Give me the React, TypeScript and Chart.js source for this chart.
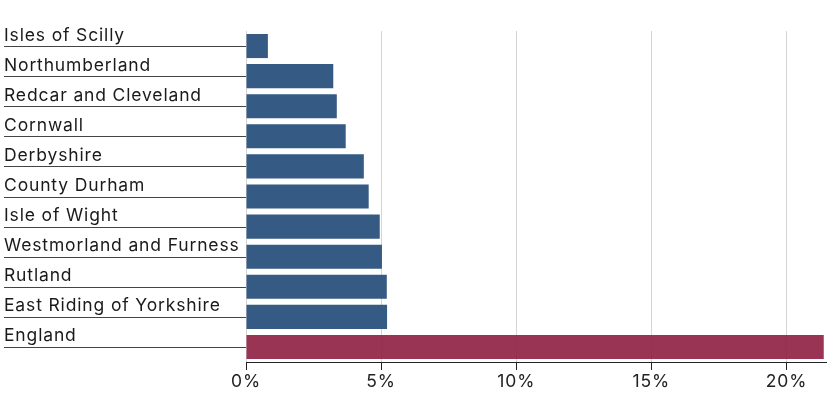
import React, { useEffect, useRef } from "react";
import { Chart, registerables } from "chart.js";

Chart.register(...registerables);

const categories = [
  "Isles of Scilly",
  "Northumberland",
  "Redcar and Cleveland",
  "Cornwall",
  "Derbyshire",
  "County Durham",
  "Isle of Wight",
  "Westmorland and Furness",
  "Rutland",
  "East Riding of Yorkshire",
  "England",
];
const values = [0.81, 3.23, 3.36, 3.69, 4.36, 4.54, 4.95, 5.03, 5.21, 5.22, 21.38];
const xTicks = [0, 5, 10, 15, 20];
const xMax = 21.5;

const BLUE = "rgba(40,80,124,0.94)";
const RED = "rgba(145,35,70,0.92)";
const FONT = "Inter, 'Noto Sans', sans-serif";
const SPACING = "0.85px";

const spacingPlugin = {
  id: "spacing",
  beforeInit(chart: any) {
    chart.ctx.letterSpacing = SPACING;
  },
  beforeDraw(chart: any) {
    chart.ctx.letterSpacing = SPACING;
  },
};

const labelPlugin = {
  id: "leftLabels",
  afterDraw(chart: any) {
    const { ctx, chartArea } = chart;
    const y = chart.scales.y;
    ctx.save();
    ctx.letterSpacing = SPACING;
    chart.data.labels.forEach((lab: string, i: number) => {
      const cy = y.getPixelForValue(i);
      const ly = Math.round(cy) + 0.5;
      ctx.strokeStyle = "#444";
      ctx.lineWidth = 1;
      ctx.beginPath();
      ctx.moveTo(4, ly);
      ctx.lineTo(chartArea.left, ly);
      ctx.stroke();
      ctx.fillStyle = "#1a1a1a";
      ctx.font = `17.5px ${FONT}`;
      ctx.textAlign = "left";
      ctx.textBaseline = "alphabetic";
      ctx.fillText(lab, 4, cy - 5.5);
    });
    ctx.restore();
  },
};

export default function App() {
  const ref = useRef<HTMLCanvasElement>(null);
  useEffect(() => {
    if (!ref.current) return;
    const chart = new Chart(ref.current, {
      type: "bar",
      data: {
        labels: categories,
        datasets: [
          {
            data: values,
            backgroundColor: categories.map((c) => (c === "England" ? RED : BLUE)),
            borderWidth: 0,
            categoryPercentage: 1,
            barPercentage: 0.8,
          },
        ],
      },
      options: {
        indexAxis: "y",
        animation: false,
        responsive: true,
        maintainAspectRatio: false,
        layout: { padding: { left: 246, top: 31, bottom: 4, right: 0 } },
        plugins: { legend: { display: false }, tooltip: { enabled: false } },
        scales: {
          y: { display: false },
          x: {
            min: 0,
            max: xMax,
            afterBuildTicks(scale: any) {
              scale.ticks = xTicks.map((v) => ({ value: v }));
            },
            grid: {
              color: "#d4d4d4",
              tickColor: "#222",
              tickLength: 8,
              drawTicks: true,
            },
            border: { color: "#222", width: 1 },
            ticks: {
              padding: 1,
              color: "#222",
              font: { family: FONT, size: 17.5 },
              callback: (v: any) => `${v}%`,
            },
          },
        },
      },
      plugins: [spacingPlugin, labelPlugin],
    });
    return () => chart.destroy();
  }, []);
  return (
    <div style={{ position: "fixed", left: 0, top: 0, width: 827, height: 397 }}>
      <canvas ref={ref} />
    </div>
  );
}
